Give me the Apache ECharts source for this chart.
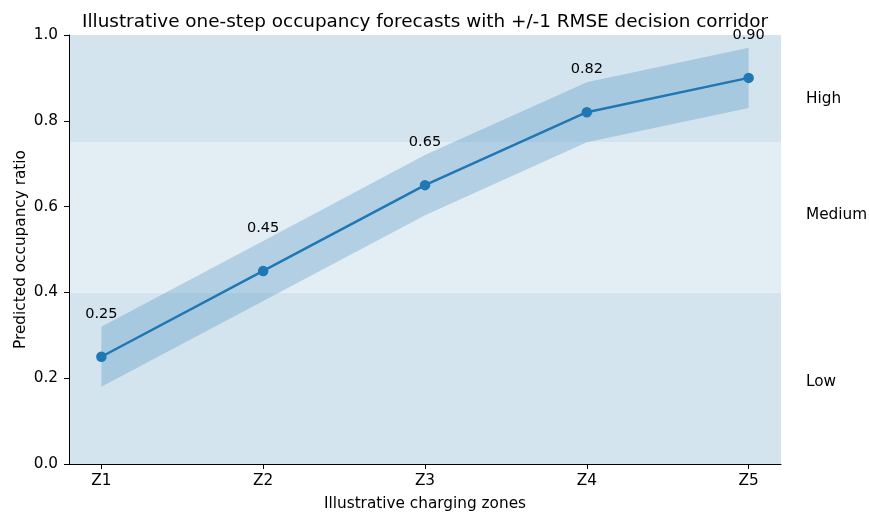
<!DOCTYPE html>
<html><head><meta charset="utf-8">
<script src="https://cdn.jsdelivr.net/npm/echarts@6/dist/echarts.min.js"></script>
<style>html,body{margin:0;padding:0;background:#fff}#c{width:869px;height:512px}</style>
</head><body><div id="c"></div>
<script>
const zones = ['Z1','Z2','Z3','Z4','Z5'];
const forecast = [0.25, 0.45, 0.65, 0.82, 0.90];
const lowerBound = [0.18, 0.38, 0.58, 0.75, 0.83];
const upperBound = [0.32, 0.52, 0.72, 0.89, 0.97];
const bandNames = ['Low','Medium','High'];
const bandFrom = [0.0, 0.4, 0.75];
const bandTo = [0.4, 0.75, 1.0];
const bandLabelY = [0.19, 0.58, 0.85];
const yTicks = [0.0, 0.2, 0.4, 0.6, 0.8, 1.0];

const F = 'DejaVu Sans';
const FS = 15.3;
const bandColors = ['rgb(212,228,238)','rgb(227,237,244)','rgb(212,228,238)'];

const chart = echarts.init(document.getElementById('c'));
const xs = zones.map((z,i)=>i);
chart.setOption({
  animation:false,
  backgroundColor:'#fff',
  textStyle:{fontFamily:F},
  title:{text:'Illustrative one-step occupancy forecasts with +/-1 RMSE decision corridor',
    left:420, textAlign:'center', top:8,
    textStyle:{fontFamily:F,fontWeight:'normal',fontSize:18.4,color:'#000'}},
  grid:{left:69,right:88,top:35,bottom:48,containLabel:false,outerBoundsMode:'none'},
  xAxis:{type:'value',min:-0.2,max:4.2,
    name:'Illustrative charging zones',nameLocation:'middle',nameGap:33,nameMoveOverlap:false,
    nameTextStyle:{fontFamily:F,fontSize:FS,color:'#000'},
    axisLine:{show:true,onZero:false,lineStyle:{color:'#000',width:1}},
    axisTick:{show:true,length:5,lineStyle:{color:'#000'},customValues:xs},
    axisLabel:{customValues:xs,margin:10,fontFamily:F,fontSize:FS,color:'#000',
      formatter:v=>zones[Math.round(v)]},
    splitLine:{show:false}},
  yAxis:{type:'value',min:0,max:1,interval:0.2,
    name:'Predicted occupancy ratio',nameLocation:'middle',nameGap:40,nameMoveOverlap:false,
    nameTextStyle:{fontFamily:F,fontSize:FS,color:'#000'},
    axisLine:{show:true,onZero:false,lineStyle:{color:'#000',width:1}},
    axisTick:{show:true,length:5,lineStyle:{color:'#000'}},
    axisLabel:{margin:11,fontFamily:F,fontSize:FS,color:'#000',formatter:v=>v.toFixed(1)},
    splitLine:{show:false}},
  series:[
    {type:'custom',z:1,silent:true,
      data:[0],
      renderItem:function(params,api){
        const pts=[];
        for(let i=0;i<xs.length;i++) pts.push(api.coord([xs[i],upperBound[i]]));
        for(let i=xs.length-1;i>=0;i--) pts.push(api.coord([xs[i],lowerBound[i]]));
        return {type:'polygon',shape:{points:pts},style:{fill:'rgba(31,119,180,0.25)'}};
      }
    },
    {type:'custom',z:1,silent:true,clip:false,
      data:bandLabelY.map((y,i)=>[i,y]),
      renderItem:function(params,api){
        const i=api.value(0);
        const p=api.coord([4.2,api.value(1)]);
        return {type:'text',x:p[0]+25,y:p[1],
          style:{text:bandNames[i],fontFamily:F,fontSize:FS,fill:'#000',textAlign:'left',textVerticalAlign:'middle'}};
      }
    },
    {type:'line',z:3,
      data:xs.map((x,i)=>[x,forecast[i]]),
      lineStyle:{color:'#1f77b4',width:2.5},
      itemStyle:{color:'#1f77b4'},
      symbol:'circle',symbolSize:10.5,showSymbol:true,
      label:{show:true,position:'top',distance:30,fontFamily:F,fontSize:14.5,color:'#000',
        formatter:p=>p.value[1].toFixed(2)},
      markArea:{silent:true,z:0,
        data:bandNames.map((n,i)=>[{yAxis:bandFrom[i],itemStyle:{color:bandColors[i],opacity:1}},{yAxis:bandTo[i]}])}
    }
  ]
});
</script></body></html>
